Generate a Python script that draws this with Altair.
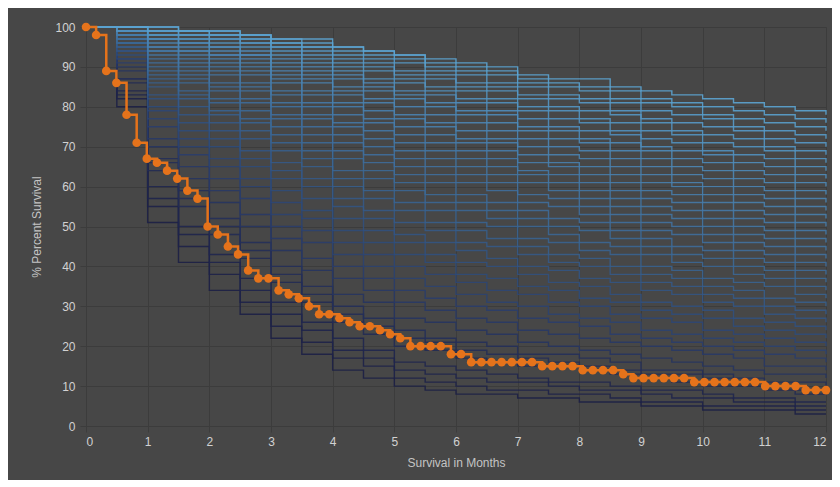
import altair as alt
import pandas as pd

# ---- observed Kaplan-Meier curve (orange), one point every 5 days ----
obs_days = list(range(0, 366, 5))
obs_surv = [100, 98, 89, 86, 78, 71, 67, 66, 64, 62, 59, 57, 50, 48, 45, 43, 39, 37, 37, 34,
            33, 32, 30, 28, 28, 27, 26, 25, 25, 24, 23, 22, 20, 20, 20, 20, 18, 18, 16, 16,
            16, 16, 16, 16, 16, 15, 15, 15, 15, 14, 14, 14, 14, 13, 12, 12, 12, 12, 12, 12,
            11, 11, 11, 11, 11, 11, 11, 10, 10, 10, 10, 9, 9, 9]

# ---- simulated curves (blue fan), value every half month ----
sim_months = [0, 0.5, 1, 1.5, 2, 2.5, 3, 3.5, 4, 4.5, 5, 5.5, 6, 6.5, 7, 7.5, 8, 8.5, 9, 9.5,
              10, 10.5, 11, 11.5, 12]
c78 = [100,100,100,99,99,98,97,97,95,94,93,92,91,90,88,87,87,85,84,83,82,81,80,79,78]
c76 = [100,100,100,99,99,98,97,96,95,94,93,91,90,89,87,86,85,84,82,81,80,79,78,77,76]
c74 = [100,100,99,99,98,98,96,95,94,93,92,90,89,88,86,85,84,82,81,80,78,77,76,75,74]
c72 = [100,100,99,99,98,97,96,95,93,92,91,89,88,86,85,83,82,81,79,78,77,75,74,73,72]
c70 = [100,100,99,98,98,97,95,94,92,91,89,88,86,85,83,82,81,79,77,76,75,74,72,71,70]
c68 = [100,100,99,98,97,96,95,93,91,90,88,87,85,84,82,80,79,78,76,74,73,72,70,69,68]
c66 = [100,100,98,98,97,96,94,92,90,89,87,85,84,82,80,79,77,76,74,73,71,70,69,67,66]
c64 = [100,99,98,97,96,95,93,91,89,87,86,84,82,81,79,77,76,74,72,71,69,68,67,65,64]
c62 = [100,99,98,97,95,94,92,90,88,86,84,83,81,79,77,75,74,73,70,69,68,66,65,63,62]
c60 = [100,99,97,96,95,93,91,89,87,85,83,81,79,78,75,74,72,71,69,67,66,64,63,61,60]
c58 = [100,99,97,96,94,93,90,88,85,84,82,80,78,76,74,72,71,69,67,65,64,62,61,59,58]
c56 = [100,99,97,95,93,92,89,87,84,82,80,78,76,74,72,70,69,67,65,63,62,60,59,57,56]
c54 = [100,99,96,94,93,91,88,86,83,81,78,76,74,72,70,68,67,65,63,61,60,58,57,55,54]
c52 = [100,99,95,94,92,90,87,84,81,79,77,75,72,71,68,66,65,63,61,60,58,56,55,53,52]
c50 = [100,98,95,93,91,89,86,83,80,77,75,73,71,69,66,65,63,61,59,58,56,54,53,51,50]
c48 = [100,98,94,92,90,88,84,81,78,76,73,71,69,67,64,63,61,59,57,56,54,52,51,49,48]
c46 = [100,98,94,91,89,86,83,80,76,74,71,69,67,65,63,61,59,57,55,54,52,50,49,47,46]
c44 = [100,98,93,90,88,85,81,78,75,72,69,67,65,63,61,59,57,55,53,52,50,48,47,45,44]
c42 = [100,97,92,89,86,84,80,77,73,70,67,65,63,61,58,57,55,53,51,50,48,46,45,43,42]
c40 = [100,97,91,88,85,82,78,75,71,68,65,63,61,59,56,55,53,51,49,48,46,44,43,41,40]
c38 = [100,97,90,87,84,81,77,73,69,66,63,61,58,56,54,52,51,49,47,45,44,42,41,39,38]
c36 = [100,96,89,86,82,79,75,71,67,64,61,58,56,54,52,50,49,47,45,43,42,40,39,37,36]
c34 = [100,96,88,84,81,77,73,69,64,62,59,56,54,52,50,48,46,45,43,41,40,38,37,35,34]
c32 = [100,96,87,83,79,76,71,67,62,59,56,54,51,50,47,46,44,43,40,39,37,36,35,33,32]
c30 = [100,95,86,82,78,74,69,65,60,57,54,51,49,47,45,43,42,40,38,37,35,34,32,31,30]
c28 = [100,95,85,80,76,72,66,62,57,54,51,49,46,45,43,41,40,38,36,35,33,32,30,29,28]
c26 = [100,94,83,78,74,69,64,60,55,52,48,46,44,42,40,39,37,36,34,33,31,30,28,27,26]
c24 = [100,94,82,76,72,67,62,57,52,49,46,43,41,40,38,36,35,33,31,30,29,27,26,25,24]
c22 = [100,93,80,74,70,65,59,54,49,46,43,41,38,37,35,34,32,31,29,28,27,25,24,23,22]
c20 = [100,92,79,72,67,62,56,52,46,43,40,38,36,34,33,31,30,28,27,26,24,23,22,21,20]
c18 = [100,92,77,70,65,60,53,49,43,40,37,35,33,31,30,28,27,26,24,23,22,21,20,19,18]
c16 = [100,91,75,68,62,57,50,46,40,37,34,32,30,29,27,26,25,23,22,21,20,19,18,17,16]
c14 = [100,90,72,65,59,53,47,42,37,34,31,29,27,26,24,23,22,21,20,19,18,17,15,15,14]
c12 = [100,89,70,62,56,50,44,39,33,31,27,26,24,23,21,20,19,18,17,16,15,14,13,13,12]
c10 = [100,87,67,59,52,46,40,35,30,27,24,22,21,20,18,18,17,16,14,14,13,12,11,11,10]
c9 = [100,87,66,57,50,44,38,33,28,25,22,21,19,18,17,16,15,14,13,13,12,11,10,9,9]
c8 = [100,86,64,55,48,42,36,31,26,23,20,19,17,16,15,15,14,13,12,11,10,10,9,8,8]
c6 = [100,84,60,50,43,37,31,26,22,19,16,15,14,13,12,11,11,10,9,9,8,7,7,6,6]
c5 = [100,83,57,48,41,34,28,24,19,17,14,13,12,11,11,10,9,9,8,7,7,6,6,5,5]
c4 = [100,82,55,45,38,31,25,21,17,15,12,11,10,9,9,8,8,7,6,6,5,5,5,4,4]
c3 = [100,80,51,41,34,28,22,18,14,12,10,9,8,8,7,7,6,6,5,5,4,4,4,3,3]

# darkest first so the light curves are drawn on top
sim_curves = [c3, c4, c5, c6, c8, c9, c10, c12, c14, c16, c18, c20, c22, c24, c26, c28,
              c30, c32, c34, c36, c38, c40, c42, c44, c46, c48, c50, c52, c54, c56, c58,
              c60, c62, c64, c66, c68, c70, c72, c74, c76, c78]

x_ticks = list(range(13))
y_ticks = [0, 10, 20, 30, 40, 50, 60, 70, 80, 90, 100]

rows = []
for k, vals in enumerate(sim_curves):
    for t, v in zip(sim_months, vals):
        rows.append({"curve": f"s{k:02d}", "final": vals[-1], "t": t, "s": v})
sim_df = pd.DataFrame(rows)

obs_df = pd.DataFrame({"t": [d / 30.4167 for d in obs_days], "s": obs_surv})

ORANGE = "#e5731b"

x_enc = alt.X("t:Q", scale=alt.Scale(domain=[0, 12], nice=False),
              axis=alt.Axis(values=x_ticks, title="Survival in Months",
                            format="d", labelPadding=4, tickSize=6, titlePadding=10))
y_enc = alt.Y("s:Q", scale=alt.Scale(domain=[0, 100], nice=False),
              axis=alt.Axis(values=y_ticks, title="% Percent Survival", format="d",
                            labelPadding=5, tickSize=6, titlePadding=11,
                            labelOverlap=False))

sim = alt.Chart(sim_df).mark_line(interpolate="step-after", strokeWidth=1.4, opacity=0.9).encode(
    x=x_enc,
    y=y_enc,
    detail="curve:N",
    color=alt.Color("final:Q",
                    scale=alt.Scale(domain=[3, 14, 33, 78],
                                    range=["#1c1f45", "#283965", "#3a6592", "#5ca4d1"]),
                    legend=None),
)

obs_base = alt.Chart(obs_df).encode(x=x_enc, y=y_enc)
obs_line = obs_base.mark_line(interpolate="step-after", color=ORANGE, strokeWidth=2.5)
obs_pts = obs_base.mark_circle(color=ORANGE, size=75, opacity=1)

chart = alt.layer(sim, obs_line, obs_pts).properties(
    width=740, height=399,
    autosize=alt.AutoSizeParams(type="none"),
    padding={"left": 78, "top": 19, "right": 6, "bottom": 54},
    background="#474747",
).configure_view(strokeWidth=0).configure_axis(
    gridColor="#3c3c3c", gridWidth=1,
    domainColor="#3c3c3c", tickColor="#3c3c3c",
    labelColor="#d2d2d2", titleColor="#c4c4c4",
    labelFont="Liberation Sans", titleFont="Liberation Sans",
    labelFontSize=12, titleFontSize=12, titleFontWeight="normal",
)

chart.save("out.html", embed_options={"renderer": "svg", "actions": False})
